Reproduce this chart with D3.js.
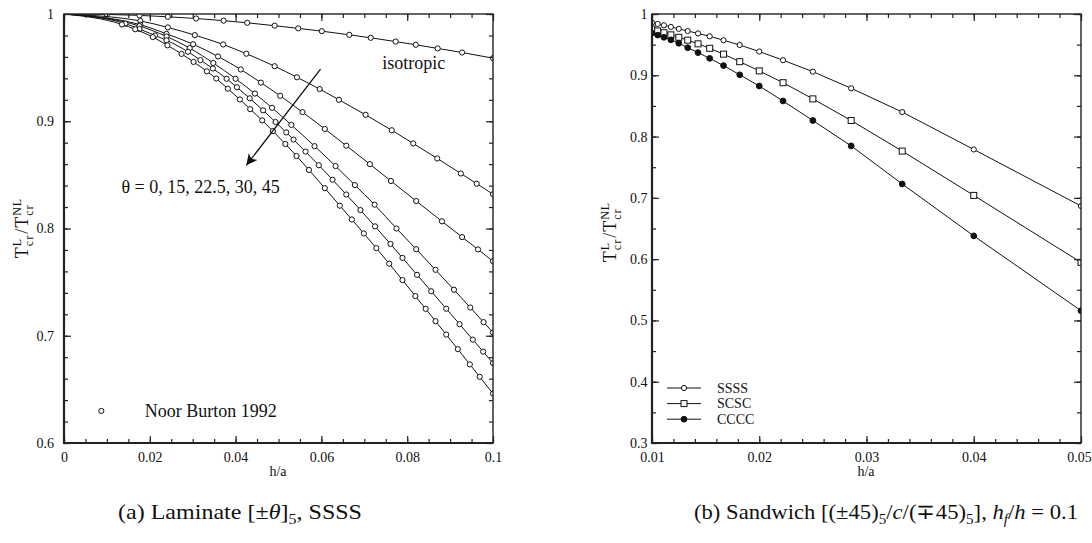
<!DOCTYPE html>
<html>
<head>
<meta charset="utf-8">
<script src="https://cdn.jsdelivr.net/npm/d3@7"></script>
<style>
  body { margin: 0; background: #fff; }
  text { font-family: "Liberation Serif", "Times New Roman", serif; fill: #111; }
</style>
</head>
<body>
<script>

var Width = 1092;     // of SVG
var Height = 543;     // of SVG

// ---- panel (a): laminate, h/a vs T_L/T_NL ----
var isoX  = [0, 0.0100, 0.0176, 0.0242, 0.0308, 0.0372, 0.0427, 0.0491, 0.0546, 0.0601, 0.0665, 0.0715, 0.0773, 0.0820, 0.0871, 0.0928, 0.1000];
var isoY  = [1, 0.9996, 0.9987, 0.9974, 0.9958, 0.9938, 0.9918, 0.9891, 0.9866, 0.9840, 0.9806, 0.9778, 0.9743, 0.9713, 0.9679, 0.9641, 0.9588];

var th0X  = [0, 0.0178, 0.0242, 0.0305, 0.0371, 0.0425, 0.0491, 0.0543, 0.0596, 0.0641, 0.0703, 0.0764, 0.0814, 0.0870, 0.0925, 0.0962, 0.1000];
var th0Y  = [1, 0.9935, 0.9875, 0.9803, 0.9716, 0.9630, 0.9513, 0.9410, 0.9300, 0.9200, 0.9060, 0.8916, 0.8793, 0.8653, 0.8513, 0.8418, 0.8320];

var th15X = [0, 0.0178, 0.0239, 0.0301, 0.0359, 0.0412, 0.0459, 0.0504, 0.0556, 0.0608, 0.0658, 0.0713, 0.0762, 0.0821, 0.0881, 0.0928, 0.0965, 0.1000];
var th15Y = [1, 0.9900, 0.9815, 0.9718, 0.9604, 0.9483, 0.9360, 0.9237, 0.9085, 0.8928, 0.8772, 0.8600, 0.8443, 0.8256, 0.8067, 0.7920, 0.7805, 0.7695];

var th22X = [0, 0.0176, 0.0239, 0.0293, 0.0348, 0.0400, 0.0445, 0.0485, 0.0530, 0.0584, 0.0633, 0.0678, 0.0724, 0.0775, 0.0821, 0.0866, 0.0909, 0.0947, 0.0978, 0.1000];
var th22Y = [1, 0.9888, 0.9790, 0.9682, 0.9543, 0.9396, 0.9258, 0.9125, 0.8966, 0.8768, 0.8582, 0.8405, 0.8222, 0.8000, 0.7807, 0.7615, 0.7429, 0.7263, 0.7127, 0.7030];

var th30X = [0, 0.0143, 0.0176, 0.0212, 0.0239, 0.0289, 0.0318, 0.0347, 0.0379, 0.0403, 0.0433, 0.0464, 0.0493, 0.0518, 0.0535, 0.0563, 0.0594, 0.0626, 0.0658, 0.0691, 0.0725, 0.0761, 0.0789, 0.0823, 0.0856, 0.0891, 0.0922, 0.0953, 0.0977, 0.1000];
var th30Y = [1, 0.9910, 0.9860, 0.9800, 0.9755, 0.9648, 0.9570, 0.9492, 0.9396, 0.9317, 0.9214, 0.9102, 0.8993, 0.8896, 0.8829, 0.8717, 0.8590, 0.8455, 0.8317, 0.8172, 0.8020, 0.7856, 0.7726, 0.7568, 0.7415, 0.7252, 0.7108, 0.6964, 0.6852, 0.6745];

var th45X = [0, 0.0135, 0.0166, 0.0207, 0.0241, 0.0274, 0.0302, 0.0333, 0.0355, 0.0382, 0.0410, 0.0434, 0.0462, 0.0487, 0.0516, 0.0542, 0.0571, 0.0608, 0.0643, 0.0671, 0.0699, 0.0728, 0.0758, 0.0789, 0.0819, 0.0843, 0.0866, 0.0891, 0.0918, 0.0946, 0.0969, 0.1000];
var th45Y = [1, 0.9903, 0.9858, 0.9785, 0.9708, 0.9628, 0.9553, 0.9466, 0.9398, 0.9303, 0.9203, 0.9113, 0.9008, 0.8908, 0.8788, 0.8676, 0.8546, 0.8376, 0.8213, 0.8084, 0.7954, 0.7817, 0.7672, 0.7519, 0.7370, 0.7251, 0.7136, 0.7011, 0.6875, 0.6733, 0.6617, 0.6460];

var leftXTicks  = [0, 0.02, 0.04, 0.06, 0.08, 0.1];
var leftXLabels = ["0", "0.02", "0.04", "0.06", "0.08", "0.1"];
var leftYTicks  = [0.6, 0.7, 0.8, 0.9, 1];
var leftYLabels = ["0.6", "0.7", "0.8", "0.9", "1"];

// ---- panel (b): sandwich, three boundary conditions ----
var sandX  = [0.01, 0.01053, 0.01111, 0.01176, 0.0125, 0.01333, 0.01429, 0.01538, 0.01667, 0.01818, 0.02, 0.02222, 0.025, 0.02857, 0.03333, 0.04, 0.05];
var ssssY  = [0.9858, 0.9838, 0.9816, 0.9790, 0.9758, 0.9723, 0.9683, 0.9636, 0.9572, 0.9494, 0.9387, 0.9246, 0.9059, 0.8788, 0.8400, 0.7790, 0.6867];
var scscY  = [0.9752, 0.9724, 0.9694, 0.9660, 0.9620, 0.9573, 0.9513, 0.9440, 0.9345, 0.9222, 0.9072, 0.8879, 0.8615, 0.8262, 0.7763, 0.7040, 0.5948];
var ccccY  = [0.9688, 0.9656, 0.9620, 0.9578, 0.9523, 0.9450, 0.9370, 0.9276, 0.9158, 0.9008, 0.8825, 0.8581, 0.8262, 0.7848, 0.7226, 0.6380, 0.5159];
var sandNames = ["SSSS", "SCSC", "CCCC"];

var rightXTicks  = [0.01, 0.02, 0.03, 0.04, 0.05];
var rightXLabels = ["0.01", "0.02", "0.03", "0.04", "0.05"];
var rightYTicks  = [0.3, 0.4, 0.5, 0.6, 0.7, 0.8, 0.9, 1];
var rightYLabels = ["0.3", "0.4", "0.5", "0.6", "0.7", "0.8", "0.9", "1"];


function main () {

  var svg = d3.select("body").append("svg")
    .attr("width", Width)
    .attr("height", Height);

  // ----- left panel -----
  var xL = d3.scaleLinear().domain([0, 0.1]).range([64, 493]);
  var yL = d3.scaleLinear().domain([0.6, 1]).range([443, 14]);

  makeClip(svg, "clipL", xL, yL);
  var gL = svg.append("g").attr("clip-path", "url(#clipL)");

  var leftSeries = [[isoX, isoY], [th0X, th0Y], [th15X, th15Y], [th22X, th22Y], [th30X, th30Y], [th45X, th45Y]];
  var smooth = d3.line()
    .x(function(d) { return xL(d[0]); })
    .y(function(d) { return yL(d[1]); })
    .curve(d3.curveMonotoneX);

  leftSeries.forEach(function(s) {
    var pts = s[0].map(function(x, i) { return [x, s[1][i]]; });
    gL.append("path").datum(pts)
      .attr("d", smooth)
      .attr("fill", "none")
      .attr("stroke", "#111")
      .attr("stroke-width", 1);
    gL.selectAll(null)
      .data(pts.filter(function(d) { return d[0] > 0; }))
      .enter().append("circle")
      .attr("cx", function(d) { return xL(d[0]); })
      .attr("cy", function(d) { return yL(d[1]); })
      .attr("r", 2.6)
      .attr("fill", "#fff")
      .attr("stroke", "#111")
      .attr("stroke-width", 1);
  });

  makeAxes(svg, xL, yL, leftXTicks, leftXLabels, d3.range(0, 0.1001, 0.005),
           leftYTicks, leftYLabels, d3.range(0.6, 1.0001, 0.02), 10);

  // annotations
  svg.append("defs").append("marker")
    .attr("id", "head")
    .attr("viewBox", "0 0 10 10")
    .attr("refX", 10).attr("refY", 5)
    .attr("markerWidth", 14).attr("markerHeight", 11)
    .attr("markerUnits", "userSpaceOnUse")
    .attr("orient", "auto")
    .append("path").attr("d", "M0,0 L10,5 L0,10 L2.5,5 Z").attr("fill", "#111");

  svg.append("line")
    .attr("x1", xL(0.0598)).attr("y1", yL(0.9486))
    .attr("x2", xL(0.0425)).attr("y2", yL(0.8589))
    .attr("stroke", "#111").attr("stroke-width", 1.3)
    .attr("marker-end", "url(#head)");

  svg.append("text").attr("x", xL(0.0742)).attr("y", yL(0.9486))
    .style("font-size", "18px").text("isotropic");
  svg.append("text").attr("x", xL(0.0134)).attr("y", yL(0.833))
    .style("font-size", "18px").text("\u03b8 = 0, 15, 22.5, 30, 45");
  svg.append("circle").attr("cx", xL(0.0087)).attr("cy", yL(0.6299)).attr("r", 2.6)
    .attr("fill", "#fff").attr("stroke", "#111");
  svg.append("text").attr("x", xL(0.0188)).attr("y", yL(0.624))
    .style("font-size", "18px").text("Noor Burton 1992");

  svg.append("text").attr("x", 278).attr("y", 476).attr("text-anchor", "middle")
    .style("font-size", "14px").text("h/a");
  makeTLabel(svg, 28, 228);

  // ----- right panel -----
  var xR = d3.scaleLinear().domain([0.01, 0.05]).range([652, 1081]);
  var yR = d3.scaleLinear().domain([0.3, 1]).range([443, 14]);

  makeClip(svg, "clipR", xR, yR);
  var gR = svg.append("g").attr("clip-path", "url(#clipR)");

  var straight = d3.line()
    .x(function(d) { return xR(d[0]); })
    .y(function(d) { return yR(d[1]); });

  [ssssY, scscY, ccccY].forEach(function(ys, k) {
    var pts = sandX.map(function(x, i) { return [x, ys[i]]; });
    gR.append("path").datum(pts)
      .attr("d", straight)
      .attr("fill", "none")
      .attr("stroke", "#111")
      .attr("stroke-width", 1);
    pts.forEach(function(d) { drawSymbol(gR, k, xR(d[0]), yR(d[1])); });
  });

  makeAxes(svg, xR, yR, rightXTicks, rightXLabels, d3.range(0.01, 0.0501, 0.002),
           rightYTicks, rightYLabels, d3.range(0.3, 1.0001, 0.05), 4.5);

  // legend
  sandNames.forEach(function(name, k) {
    var ly = 388 + k * 15.6;
    svg.append("line").attr("x1", 667).attr("x2", 701).attr("y1", ly).attr("y2", ly)
      .attr("stroke", "#111").attr("stroke-width", 1);
    drawSymbol(svg, k, 684, ly);
    svg.append("text").attr("x", 717).attr("y", ly + 4.5)
      .style("font-size", "14px").text(name);
  });

  svg.append("text").attr("x", 866).attr("y", 476).attr("text-anchor", "middle")
    .style("font-size", "14px").text("h/a");
  makeTLabel(svg, 616, 232);

  // ----- captions -----
  var capA = svg.append("text").attr("x", 118).attr("y", 519).style("font-size", "21px")
    .attr("textLength", 244).attr("lengthAdjust", "spacingAndGlyphs");
  capA.append("tspan").text("(a) Laminate [\u00b1");
  capA.append("tspan").style("font-style", "italic").text("\u03b8");
  capA.append("tspan").text("]");
  capA.append("tspan").attr("dy", 5).style("font-size", "14px").text("5");
  capA.append("tspan").attr("dy", -5).text(", SSSS");

  var capB = svg.append("text").attr("x", 694).attr("y", 519).style("font-size", "21px")
    .attr("textLength", 384).attr("lengthAdjust", "spacingAndGlyphs");
  capB.append("tspan").text("(b) Sandwich [(\u00b145)");
  capB.append("tspan").attr("dy", 5).style("font-size", "14px").text("5");
  capB.append("tspan").attr("dy", -5).text("/");
  capB.append("tspan").style("font-style", "italic").text("c");
  capB.append("tspan").text("/(\u221345)");
  capB.append("tspan").attr("dy", 5).style("font-size", "14px").text("5");
  capB.append("tspan").attr("dy", -5).text("], ");
  capB.append("tspan").style("font-style", "italic").text("h");
  capB.append("tspan").attr("dy", 5).style("font-size", "14px").style("font-style", "italic").text("f");
  capB.append("tspan").attr("dy", -5).text("/");
  capB.append("tspan").style("font-style", "italic").text("h");
  capB.append("tspan").text(" = 0.1");
}

function drawSymbol (g, k, cx, cy) {
  if (k === 1) {
    g.append("rect").attr("x", cx - 3).attr("y", cy - 3).attr("width", 6).attr("height", 6)
      .attr("fill", "#fff").attr("stroke", "#111").attr("stroke-width", 1);
  } else {
    g.append("circle").attr("cx", cx).attr("cy", cy).attr("r", k === 2 ? 2.9 : 2.6)
      .attr("fill", k === 2 ? "#111" : "#fff").attr("stroke", "#111").attr("stroke-width", 1);
  }
}

function makeClip (svg, id, x, y) {
  svg.append("clipPath").attr("id", id).append("rect")
    .attr("x", x.range()[0]).attr("y", y.range()[1])
    .attr("width", x.range()[1] - x.range()[0])
    .attr("height", y.range()[0] - y.range()[1]);
}

function makeAxes (svg, x, y, xTicks, xLabels, xMinor, yTicks, yLabels, yMinor, yPad) {
  var x0 = x.range()[0], x1 = x.range()[1];
  var y0 = y.range()[0], y1 = y.range()[1];

  function tidy (g) {
    g.attr("font-family", "Liberation Serif").attr("font-size", 14);
    g.select(".domain").remove();
    g.selectAll("line").attr("stroke", "#222").attr("stroke-width", 1.2);
    g.selectAll("text").attr("fill", "#111");
  }

  var bottom = svg.append("g").attr("transform", "translate(0," + y0 + ")")
    .call(d3.axisBottom(x).tickValues(xTicks).tickSize(-7).tickPadding(9)
      .tickFormat(function(d, i) { return xLabels[i]; })).call(tidy);
  // keep the last label inside the picture
  bottom.selectAll("text").filter(function(d) { return x(d) > Width - 14; }).attr("dx", -2);

  svg.append("g").attr("transform", "translate(0," + y0 + ")")
    .call(d3.axisBottom(x).tickValues(xMinor).tickSize(-4).tickFormat("")).call(tidy);
  svg.append("g").attr("transform", "translate(0," + y1 + ")")
    .call(d3.axisTop(x).tickValues(xTicks).tickSize(-7).tickFormat("")).call(tidy);
  svg.append("g").attr("transform", "translate(0," + y1 + ")")
    .call(d3.axisTop(x).tickValues(xMinor).tickSize(-4).tickFormat("")).call(tidy);

  svg.append("g").attr("transform", "translate(" + x0 + ",0)")
    .call(d3.axisLeft(y).tickValues(yTicks).tickSize(-7).tickPadding(yPad)
      .tickFormat(function(d, i) { return yLabels[i]; })).call(tidy);
  svg.append("g").attr("transform", "translate(" + x0 + ",0)")
    .call(d3.axisLeft(y).tickValues(yMinor).tickSize(-4).tickFormat("")).call(tidy);
  svg.append("g").attr("transform", "translate(" + x1 + ",0)")
    .call(d3.axisRight(y).tickValues(yTicks).tickSize(-7).tickFormat("")).call(tidy);
  svg.append("g").attr("transform", "translate(" + x1 + ",0)")
    .call(d3.axisRight(y).tickValues(yMinor).tickSize(-4).tickFormat("")).call(tidy);

  // frame
  svg.append("rect").attr("x", x0).attr("y", y1)
    .attr("width", x1 - x0).attr("height", y0 - y1)
    .attr("fill", "none").attr("stroke", "#222").attr("stroke-width", 1.4);
  svg.append("path")
    .attr("d", "M" + x0 + "," + y1 + "V" + y0 + "H" + x1)
    .attr("fill", "none").attr("stroke", "#222").attr("stroke-width", 2.2);
}

// T_cr^L / T_cr^NL, rotated, stacked super/subscripts
function makeTLabel (svg, cx, cy) {
  var g = svg.append("g").attr("transform", "translate(" + cx + "," + cy + ") rotate(-90)");
  var inner = g.append("g");
  var pos = 0;
  function put (str, size, dy) {
    var t = inner.append("text").attr("x", pos).attr("y", dy)
      .style("font-size", size + "px").style("letter-spacing", "1px").text(str);
    return t.node().getComputedTextLength();
  }
  pos += put("T", 18, 0);
  var a = put("L", 12, -7), b = put("cr", 12, 5);
  pos += Math.max(a, b) + 1;
  pos += put("/T", 18, 0);
  a = put("NL", 12, -7); b = put("cr", 12, 5);
  pos += Math.max(a, b);
  inner.attr("transform", "translate(" + (-pos / 2) + ",0)");
}

main();

</script>
</body>
</html>
